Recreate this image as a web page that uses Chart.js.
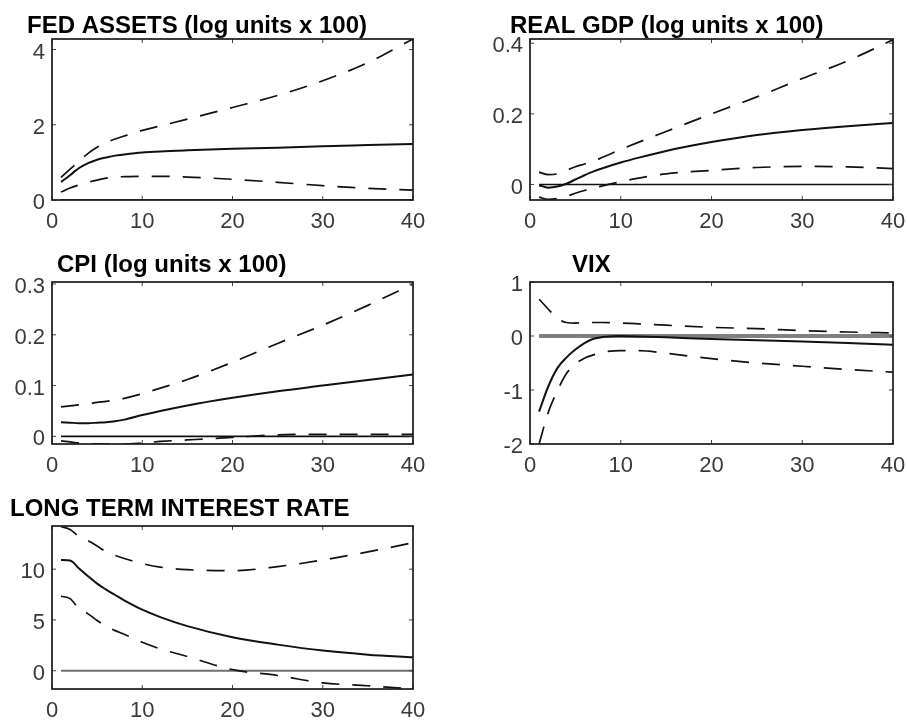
<!DOCTYPE html>
<html>
<head>
<meta charset="utf-8">
<script src="https://cdn.jsdelivr.net/npm/chart.js@4.4.1/dist/chart.umd.min.js"></script>
<style>
  html, body { margin: 0; padding: 0; background: #fff; }
  #fig { position: relative; width: 907px; height: 721px; overflow: hidden; }
  canvas { position: absolute; }
</style>
</head>
<body>
<div id="fig">
  <canvas id="fed" width="453" height="240" style="left:0;top:0"></canvas>
  <canvas id="gdp" width="453" height="240" style="left:454px;top:0"></canvas>
  <canvas id="cpi" width="453" height="240" style="left:0;top:241px"></canvas>
  <canvas id="vix" width="453" height="240" style="left:454px;top:241px"></canvas>
  <canvas id="ltir" width="453" height="239" style="left:0;top:482px"></canvas>
</div>
<script>
const horizons = [1, 2, 3, 4, 5, 6, 7, 8, 10, 12, 15, 20, 25, 30, 35, 40];
const xTicks = [0, 10, 20, 30, 40];

// ---- FED ASSETS ----
const fedMed = [0.48, 0.66, 0.85, 0.98, 1.07, 1.13, 1.18, 1.21, 1.26, 1.29, 1.32, 1.36, 1.39, 1.43, 1.46, 1.49];
const fedHi  = [0.60, 0.82, 1.03, 1.24, 1.40, 1.53, 1.62, 1.70, 1.85, 1.97, 2.15, 2.46, 2.78, 3.17, 3.65, 4.28];
const fedLo  = [0.21, 0.32, 0.40, 0.47, 0.53, 0.58, 0.61, 0.62, 0.63, 0.63, 0.61, 0.55, 0.47, 0.38, 0.31, 0.26];
const fedTicks = [0, 2, 4];

// ---- REAL GDP ----
const gdpMed = [-0.002, -0.009, -0.006, 0.002, 0.014, 0.026, 0.037, 0.046, 0.062, 0.076, 0.095, 0.120, 0.140, 0.154, 0.165, 0.174];
const gdpHi  = [0.035, 0.028, 0.030, 0.040, 0.050, 0.058, 0.066, 0.077, 0.099, 0.120, 0.150, 0.200, 0.248, 0.300, 0.350, 0.410];
const gdpLo  = [-0.036, -0.042, -0.040, -0.034, -0.025, -0.017, -0.010, -0.004, 0.008, 0.018, 0.030, 0.040, 0.048, 0.051, 0.050, 0.045];
const gdpTicks = [0, 0.2, 0.4];

// ---- CPI ----
const cpiMed = [0.028, 0.027, 0.026, 0.026, 0.027, 0.028, 0.030, 0.033, 0.042, 0.050, 0.061, 0.076, 0.089, 0.100, 0.111, 0.122];
const cpiHi  = [0.058, 0.060, 0.062, 0.064, 0.067, 0.069, 0.072, 0.075, 0.084, 0.095, 0.112, 0.146, 0.183, 0.219, 0.258, 0.300];
const cpiLo  = [-0.009, -0.011, -0.013, -0.014, -0.015, -0.015, -0.015, -0.015, -0.013, -0.010, -0.007, -0.002, 0.003, 0.004, 0.004, 0.004];
const cpiTicks = [0, 0.1, 0.2, 0.3];

// ---- VIX ----
const vixMed = [-1.40, -0.94, -0.60, -0.40, -0.25, -0.13, -0.05, -0.02, 0.00, -0.01, -0.025, -0.056, -0.08, -0.10, -0.13, -0.16];
const vixHi  = [0.68, 0.50, 0.33, 0.25, 0.24, 0.245, 0.25, 0.25, 0.24, 0.225, 0.20, 0.16, 0.136, 0.10, 0.074, 0.056];
const vixLo  = [-2.00, -1.42, -1.02, -0.70, -0.52, -0.41, -0.35, -0.30, -0.27, -0.27, -0.32, -0.42, -0.50, -0.56, -0.62, -0.67];
const vixTicks = [-2, -1, 0, 1];

// ---- LONG TERM INTEREST RATE ----
const ltirMed = [10.9, 10.85, 10.07, 9.31, 8.58, 7.99, 7.45, 6.93, 6.01, 5.28, 4.39, 3.30, 2.57, 1.98, 1.58, 1.32];
const ltirHi  = [14.2, 13.9, 13.2, 12.8, 12.28, 11.7, 11.35, 11.05, 10.55, 10.2, 9.95, 9.85, 10.25, 10.9, 11.7, 12.6];
const ltirLo  = [7.33, 7.1, 6.1, 5.6, 4.95, 4.36, 3.95, 3.6, 2.8, 2.15, 1.4, 0.1, -0.47, -1.2, -1.48, -1.8];
const ltirTicks = [0, 5, 10];

const FONT = '"Liberation Sans", Arial, Helvetica, sans-serif';
const Y_AXIS_W = 46, X_AXIS_H = 30;

// title text drawn at a fixed spot of the panel
const panelTitle = {
  id: 'panelTitle',
  afterDraw(chart, args, opts) {
    const ctx = chart.ctx;
    ctx.save();
    ctx.font = 'bold 24px ' + FONT;
    ctx.fillStyle = '#000';
    ctx.textBaseline = 'alphabetic';
    ctx.textAlign = 'left';
    ctx.fillText(opts.text, opts.x, opts.y);
    ctx.restore();
  }
};

// matlab style box with small inward ticks
const frame = {
  id: 'frame',
  afterDatasetsDraw(chart) {
    const {ctx, chartArea: a, scales} = chart;
    ctx.save();
    ctx.strokeStyle = '#444';
    ctx.lineWidth = 1;
    ctx.beginPath();
    scales.x.ticks.forEach(t => {
      const px = scales.x.getPixelForValue(t.value);
      ctx.moveTo(px, a.bottom); ctx.lineTo(px, a.bottom - 4);
      ctx.moveTo(px, a.top); ctx.lineTo(px, a.top + 4);
    });
    scales.y.ticks.forEach(t => {
      const py = scales.y.getPixelForValue(t.value);
      ctx.moveTo(a.left, py); ctx.lineTo(a.left + 4, py);
      ctx.moveTo(a.right, py); ctx.lineTo(a.right - 4, py);
    });
    ctx.stroke();
    ctx.strokeStyle = '#1a1a1a';
    ctx.lineWidth = 1.7;
    ctx.strokeRect(a.left, a.top, a.right - a.left, a.bottom - a.top);
    ctx.restore();
  }
};

function pts(arr) { return horizons.map((h, i) => ({x: h, y: arr[i]})); }

function makePanel(p) {
  const c = document.getElementById(p.id);
  const W = c.width, H = c.height;
  const band = arr => ({
    data: pts(arr), borderColor: '#111', borderWidth: 1.7, borderDash: [18, 13],
    pointRadius: 0, cubicInterpolationMode: 'monotone', fill: false
  });
  new Chart(c, {
    type: 'line',
    data: {
      datasets: [
        { data: pts(p.med), borderColor: '#111', borderWidth: 2, pointRadius: 0,
          cubicInterpolationMode: 'monotone', fill: false },
        band(p.hi),
        band(p.lo),
        { data: [{x: 1, y: 0}, {x: 40, y: 0}], borderColor: p.zeroColor, borderWidth: p.zeroWidth,
          pointRadius: 0, fill: false }
      ]
    },
    options: {
      responsive: false,
      animation: false,
      layout: {
        padding: {
          left: p.area[0] - Y_AXIS_W,
          right: W - p.area[1],
          top: p.area[2],
          bottom: H - p.area[3] - X_AXIS_H
        }
      },
      plugins: {
        legend: { display: false },
        tooltip: { enabled: false },
        panelTitle: { text: p.title, x: p.tpos[0], y: p.tpos[1] }
      },
      scales: {
        x: {
          type: 'linear', min: 0, max: 40,
          grid: { display: false, drawTicks: false },
          border: { display: false },
          afterBuildTicks: s => { s.ticks = xTicks.map(v => ({value: v})); },
          afterFit: s => { s.height = X_AXIS_H; s.paddingLeft = 0; s.paddingRight = 0; s.paddingTop = 0; s.paddingBottom = 0; },
          ticks: { color: '#3a3a3a', padding: 9, maxRotation: 0, autoSkip: false,
                   font: { family: FONT, size: 22 }, callback: v => String(v) }
        },
        y: {
          min: p.yMin, max: p.yMax,
          grid: { display: false, drawTicks: false },
          border: { display: false },
          afterBuildTicks: s => { s.ticks = p.yTicks.map(v => ({value: v})); },
          afterFit: s => { s.width = Y_AXIS_W; s.paddingLeft = 0; s.paddingRight = 0; s.paddingTop = 0; s.paddingBottom = 0; },
          ticks: { color: '#3a3a3a', padding: 7, labelOffset: 3, autoSkip: false,
                   font: { family: FONT, size: 22 }, callback: v => String(v) }
        }
      }
    },
    plugins: [panelTitle, frame]
  });
}

// area = [left, right, top, bottom] of the plot box inside each canvas
makePanel({ id: 'fed', title: 'FED ASSETS (log units x 100)', tpos: [27, 33],
  med: fedMed, hi: fedHi, lo: fedLo, yMin: 0, yMax: 4.28, yTicks: fedTicks,
  zeroColor: '#111', zeroWidth: 1.5, area: [52, 413, 39, 200] });
makePanel({ id: 'gdp', title: 'REAL GDP (log units x 100)', tpos: [56, 33],
  med: gdpMed, hi: gdpHi, lo: gdpLo, yMin: -0.044, yMax: 0.412, yTicks: gdpTicks,
  zeroColor: '#111', zeroWidth: 1.6, area: [76, 439, 39, 200] });
makePanel({ id: 'cpi', title: 'CPI (log units x 100)', tpos: [57, 31],
  med: cpiMed, hi: cpiHi, lo: cpiLo, yMin: -0.015, yMax: 0.304, yTicks: cpiTicks,
  zeroColor: '#111', zeroWidth: 1.8, area: [52, 413, 41, 203] });
makePanel({ id: 'vix', title: 'VIX', tpos: [118, 31],
  med: vixMed, hi: vixHi, lo: vixLo, yMin: -2, yMax: 1, yTicks: vixTicks,
  zeroColor: '#808080', zeroWidth: 4, area: [76, 439, 41, 203] });
makePanel({ id: 'ltir', title: 'LONG TERM INTEREST RATE', tpos: [10, 34],
  med: ltirMed, hi: ltirHi, lo: ltirLo, yMin: -1.8, yMax: 14.25, yTicks: ltirTicks,
  zeroColor: '#707070', zeroWidth: 2, area: [52, 413, 44, 207] });
</script>
</body>
</html>
